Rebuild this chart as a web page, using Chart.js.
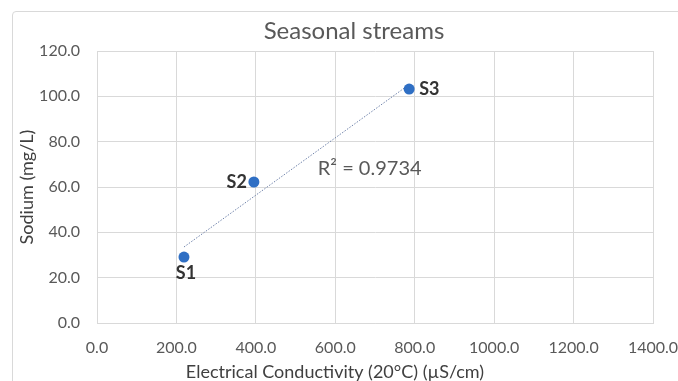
<!DOCTYPE html>
<html>
<head>
<meta charset="utf-8">
<script src="https://cdn.jsdelivr.net/npm/chart.js@4/dist/chart.umd.min.js"></script>
<style>
  html, body { margin: 0; padding: 0; background: #fff; overflow: hidden; }
  #frame {
    position: absolute; left: 12px; top: 11px; width: 720px; height: 420px;
    border: 1px solid #d9d9d9; border-radius: 4px; box-sizing: border-box;
  }
  #wrap { position: absolute; left: 0; top: 0; width: 678px; height: 381px; }
</style>
</head>
<body>
<div id="frame"></div>
<div id="wrap"><canvas id="chart" width="678" height="381"></canvas></div>
<script>
// Sampling sites and their measurements
const sites = ['S1', 'S2', 'S3'];
const conductivity = [219, 395, 786];   // µS/cm at 20°C
const sodium = [29.1, 62.2, 103.2];     // mg/L

// Axis ticks
const xTicks = [0, 200, 400, 600, 800, 1000, 1200, 1400];
const yTicks = [0, 20, 40, 60, 80, 100, 120];

// Texts
const chartTitle = 'Seasonal streams';
const xTitle = 'Electrical Conductivity (20°C) (µS/cm)';
const yTitle = 'Sodium (mg/L)';
const r2Text = 'R² = 0.9734';
const r2Anchor = { x: 556, y: 65.3 };

// Least-squares linear trend over the sites
function linearFit(xs, ys) {
  const n = xs.length;
  const mx = xs.reduce((a, b) => a + b, 0) / n;
  const my = ys.reduce((a, b) => a + b, 0) / n;
  let sxy = 0, sxx = 0;
  for (let i = 0; i < n; i++) {
    sxy += (xs[i] - mx) * (ys[i] - my);
    sxx += (xs[i] - mx) * (xs[i] - mx);
  }
  const slope = sxy / sxx;
  return { slope, intercept: my - slope * mx };
}
const fit = linearFit(conductivity, sodium);
const xMin = Math.min(...conductivity), xMax = Math.max(...conductivity);
const trendPoints = [xMin, xMax].map(x => ({ x, y: fit.intercept + fit.slope * x }));

const FONT = 'Lato, "Open Sans", sans-serif';

// Chart title, x-axis title, site labels and R² label
const textPlugin = {
  id: 'texts',
  afterDatasetsDraw(chart) {
    const { ctx, scales } = chart;
    ctx.save();
    ctx.textBaseline = 'alphabetic';

    ctx.fillStyle = '#595959';
    ctx.font = '24px ' + FONT;
    ctx.textAlign = 'center';
    ctx.fillText(chartTitle, 354, 39);

    ctx.fillStyle = '#404040';
    ctx.font = '18px ' + FONT;
    ctx.fillText(xTitle, 335, 378);

    const pts = chart.getDatasetMeta(1).data;
    ctx.fillStyle = '#333333';
    ctx.font = 'bold 18px ' + FONT;
    pts.forEach((p, i) => {
      const name = sites[i];
      if (i === 0) {
        ctx.textAlign = 'center';
        ctx.fillText(name, p.x + 2, p.y + 22);
      } else if (i === 1) {
        ctx.textAlign = 'right';
        ctx.fillText(name, p.x - 7, p.y + 6);
      } else {
        ctx.textAlign = 'left';
        ctx.fillText(name, p.x + 10, p.y + 6);
      }
    });

    ctx.fillStyle = '#595959';
    ctx.font = '20px ' + FONT;
    ctx.textAlign = 'left';
    ctx.fillText(r2Text, scales.x.getPixelForValue(r2Anchor.x), scales.y.getPixelForValue(r2Anchor.y));
    ctx.restore();
  }
};

new Chart(document.getElementById('chart'), {
  data: {
    datasets: [
      {
        type: 'line',
        label: 'Linear trend',
        data: trendPoints,
        borderColor: '#6f82aa',
        borderWidth: 1,
        borderDash: [1.5, 1.5],
        pointRadius: 0,
        fill: false,
        order: 1
      },
      {
        type: 'scatter',
        label: 'Sodium',
        data: conductivity.map((x, i) => ({ x, y: sodium[i] })),
        backgroundColor: '#2f6fc4',
        borderWidth: 0,
        pointRadius: 5.5,
        order: 0
      }
    ]
  },
  options: {
    responsive: false,
    animation: false,
    devicePixelRatio: 1,
    layout: { padding: { top: 51, right: 25, bottom: 0, left: 0 } },
    plugins: { legend: { display: false }, tooltip: { enabled: false }, title: { display: false } },
    scales: {
      x: {
        type: 'linear',
        min: 0, max: 1400,
        afterBuildTicks: s => { s.ticks = xTicks.map(v => ({ value: v })); },
        afterFit: s => { s.height = 58; s.paddingLeft = 0; s.paddingRight = 0; },
        ticks: {
          callback: v => Number(v).toFixed(1),
          color: '#595959',
          font: { family: FONT, size: 16 },
          padding: 15,
          maxRotation: 0
        },
        grid: { color: '#d9d9d9', lineWidth: 1, drawTicks: false },
        border: { display: true, color: '#d9d9d9' }
      },
      y: {
        type: 'linear',
        min: 0, max: 120,
        afterBuildTicks: s => { s.ticks = yTicks.map(v => ({ value: v })); },
        afterFit: s => { s.width = 97; s.paddingTop = 0; s.paddingBottom = 0; },
        ticks: {
          callback: v => Number(v).toFixed(1),
          color: '#595959',
          font: { family: FONT, size: 16 },
          padding: 17
        },
        grid: { color: '#d9d9d9', lineWidth: 1, drawTicks: false },
        border: { display: true, color: '#d9d9d9' },
        title: {
          display: true,
          text: yTitle,
          color: '#404040',
          font: { family: FONT, size: 18 },
          padding: { top: 16, bottom: 0 }
        }
      }
    }
  },
  plugins: [textPlugin]
});
</script>
</body>
</html>
